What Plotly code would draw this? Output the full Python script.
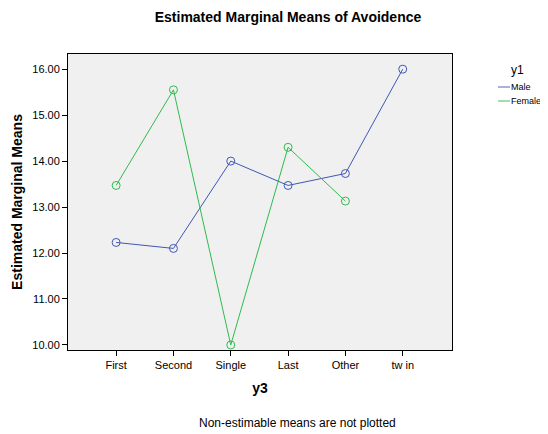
import plotly.graph_objects as go

categories = ["First", "Second", "Single", "Last", "Other", "tw in"]
male = [12.23, 12.10, 14.00, 13.47, 13.73, 16.00]
female = [13.47, 15.55, 10.00, 14.30, 13.13]
y_ticks = [10, 11, 12, 13, 14, 15, 16]
series = [("Male", male, "#3f58b4"), ("Female", female, "#2fbb4d")]

# the page body adds an 8px margin, so the figure is 8px smaller than the window
W, H = 540, 426
L, R, T, B = 60, 444, 46, 342  # plot area in figure pixels


def px(x):
    return (x - L) / (R - L)


def py(y):
    return 1 - (y - T) / (B - T)


fig = go.Figure()
for name, vals, col in series:
    xs = categories[:len(vals)]
    fig.add_trace(go.Scatter(
        x=xs, y=vals, name=name, mode="lines+markers",
        line=dict(color=col, width=1),
        marker=dict(symbol="circle-open", size=8, color=col, line=dict(width=1)),
    ))

font = "Liberation Sans, Arial, sans-serif"
shapes = []
annotations = [
    dict(text="Non-estimable means are not plotted", x=px(289), y=py(415),
         xref="paper", yref="paper", xanchor="center", yanchor="middle",
         showarrow=False, font=dict(size=12)),
    dict(text="y1", x=px(509), y=py(62), xref="paper", yref="paper",
         xanchor="center", yanchor="middle", showarrow=False, font=dict(size=12)),
]
for i, (name, vals, col) in enumerate(series):
    yy = 79 + 14 * i
    shapes.append(dict(type="line", xref="paper", yref="paper",
                       x0=px(490), x1=px(502), y0=py(yy), y1=py(yy),
                       line=dict(color=col, width=1.5), opacity=0.6))
    annotations.append(dict(text=name, x=px(501), y=py(yy), xref="paper", yref="paper",
                            xanchor="left", yanchor="middle", showarrow=False,
                            font=dict(size=9)))

fig.update_layout(
    width=W, height=H,
    margin=dict(l=L, r=W - R, t=T, b=H - B, autoexpand=False),
    paper_bgcolor="white", plot_bgcolor="#f0f0f0",
    font=dict(family=font, size=11, color="black"),
    title=dict(text="<b>Estimated Marginal Means of Avoidence</b>",
               x=280 / W, xanchor="center", y=1 - 9 / H, yanchor="middle",
               font=dict(size=14, family=font, color="black")),
    showlegend=False,
    xaxis=dict(
        type="category", categoryorder="array", categoryarray=categories,
        range=[-0.84, 5.86], showgrid=False, zeroline=False, automargin=False,
        ticks="outside", ticklen=5, tickcolor="black", tickfont=dict(size=11),
        showline=True, linecolor="black", linewidth=1, mirror=True,
        title=dict(text="<b>y3</b>", font=dict(size=14), standoff=12),
    ),
    yaxis=dict(
        tickmode="array", tickvals=y_ticks, ticktext=[f"{v:.2f}" for v in y_ticks],
        range=[9.89, 16.33], showgrid=False, zeroline=False, automargin=False,
        ticks="outside", ticklen=5, tickcolor="black", tickfont=dict(size=11),
        showline=True, linecolor="black", linewidth=1, mirror=True,
        title=dict(text="<b>Estimated Marginal Means</b>", font=dict(size=14), standoff=6),
    ),
    shapes=shapes,
    annotations=annotations,
)

fig.write_html("out.html")
